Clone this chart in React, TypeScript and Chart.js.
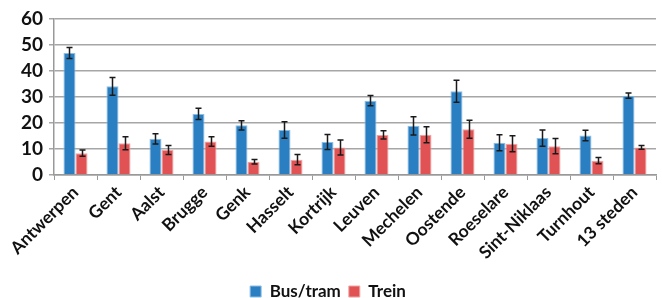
import React, { useEffect, useRef } from "react";
import { Chart, registerables } from "chart.js";

Chart.register(...registerables);

const categories = ["Antwerpen", "Gent", "Aalst", "Brugge", "Genk", "Hasselt", "Kortrijk", "Leuven", "Mechelen", "Oostende", "Roeselare", "Sint-Niklaas", "Turnhout", "13 steden"];
const busTram = [46.9, 34.1, 13.9, 23.5, 19.1, 17.3, 12.7, 28.6, 18.9, 32.2, 12.4, 14.2, 15.2, 30.5];
const busTramErr = [2.1, 3.4, 2.0, 2.2, 1.8, 3.2, 2.9, 2.0, 3.5, 4.2, 3.1, 3.1, 2.0, 1.0];
const trein = [8.4, 12.2, 9.6, 12.9, 5.1, 5.9, 10.6, 15.4, 15.5, 17.6, 12.0, 11.1, 5.5, 10.6];
const treinErr = [1.2, 2.5, 1.7, 1.8, 0.9, 2.0, 2.9, 1.6, 3.1, 3.5, 3.1, 2.9, 1.2, 0.7];
const yTicks = [0, 10, 20, 30, 40, 50, 60];

const errors = [busTramErr, treinErr];

const errorBarPlugin = {
  id: "errorBars",
  afterDatasetsDraw(chart: any) {
    const ctx = chart.ctx;
    const yScale = chart.scales.y;
    ctx.save();
    ctx.strokeStyle = "#1a1a1a";
    ctx.lineWidth = 1.5;
    chart.data.datasets.forEach((ds: any, di: number) => {
      const meta = chart.getDatasetMeta(di);
      if (meta.hidden) return;
      meta.data.forEach((bar: any, i: number) => {
        const v = ds.data[i];
        const e = errors[di][i];
        const x = Math.round(bar.x) + 0.5;
        const yTop = yScale.getPixelForValue(v + e);
        const yBot = yScale.getPixelForValue(v - e);
        ctx.beginPath();
        ctx.moveTo(x, yTop);
        ctx.lineTo(x, yBot);
        ctx.moveTo(x - 3, yTop);
        ctx.lineTo(x + 3, yTop);
        ctx.moveTo(x - 3, yBot);
        ctx.lineTo(x + 3, yBot);
        ctx.stroke();
      });
    });
    ctx.restore();
  },
};

export default function App() {
  const ref = useRef<HTMLCanvasElement | null>(null);
  useEffect(() => {
    if (!ref.current) return;
    const font = "Lato, 'Open Sans', sans-serif";
    const chart = new Chart(ref.current, {
      type: "bar",
      data: {
        labels: categories,
        datasets: [
          {
            label: "Bus/tram",
            data: busTram,
            backgroundColor: "#2A7FC2",
            borderColor: "#8DBDE3",
            borderWidth: 1,
            categoryPercentage: 0.56,
            barPercentage: 1.0,
          },
          {
            label: "Trein",
            data: trein,
            backgroundColor: "#E05253",
            borderColor: "#F0A5A5",
            borderWidth: 1,
            categoryPercentage: 0.56,
            barPercentage: 1.0,
          },
        ],
      },
      options: {
        animation: false,
        responsive: false,
        maintainAspectRatio: false,
        layout: { padding: { top: 19, right: 6, left: 0, bottom: -12 } },
        plugins: {
          legend: {
            position: "bottom",
            labels: {
              boxWidth: 11,
              boxHeight: 11,
              padding: 8,
              color: "#111",
              font: { family: font, size: 17, weight: "bold" },
            },
          },
          tooltip: { enabled: false },
        },
        scales: {
          x: {
            offset: true,
            grid: {
              offset: true,
              drawOnChartArea: false,
              tickLength: 5,
              color: "#999",
            },
            border: { color: "#999", width: 1.5 },
            ticks: {
              maxRotation: 45,
              minRotation: 45,
              autoSkip: false,
              color: "#111",
              padding: 2,
              font: { family: font, size: 17.5, weight: "bold" },
            },
            afterFit(scale: any) {
              scale.height = 100;
            },
          },
          y: {
            min: 0,
            max: 60,
            afterBuildTicks(scale: any) {
              scale.ticks = yTicks.map((v) => ({ value: v }));
            },
            grid: { color: "#A6A6A6", lineWidth: 1.5, tickLength: 5 },
            border: { color: "#999", width: 1.5 },
            ticks: {
              autoSkip: false,
              color: "#111",
              padding: 6,
              font: { family: font, size: 19, weight: "bold" },
            },
            afterFit(scale: any) {
              scale.width = 54;
            },
          },
        },
      },
      plugins: [errorBarPlugin],
    } as any);
    return () => chart.destroy();
  }, []);
  return (
    <div style={{ position: "fixed", left: 0, top: 0, width: 662, height: 298, background: "#fff" }}>
      <canvas ref={ref} width={662} height={298} style={{ width: 662, height: 298 }} />
    </div>
  );
}
